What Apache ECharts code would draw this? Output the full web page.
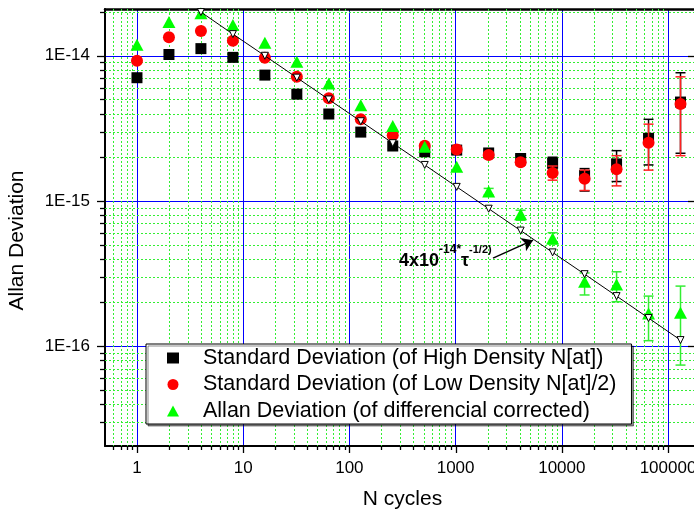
<!DOCTYPE html>
<html><head><meta charset="utf-8">
<script src="https://cdn.jsdelivr.net/npm/echarts@6/dist/echarts.min.js"></script>
<style>html,body{margin:0;padding:0;background:#fff}#c{width:694px;height:514px}</style>
</head><body><div id="c"></div>
<script>
// ---- data ----
const nCycles = [1,2,4,8,16,32,64,128,256,512,1024,2048,4096,8192,16384,32768,65536,131072];
const highDensity = [7.06e-15,1.02e-14,1.12e-14,9.75e-15,7.36e-15,5.44e-15,3.97e-15,2.98e-15,2.39e-15,2.18e-15,2.24e-15,2.14e-15,1.96e-15,1.82e-15,1.50e-15,1.80e-15,2.70e-15,4.80e-15];
const highErrLow  = [null,null,null,null,null,null,null,null,null,null,null,2.05e-15,1.84e-15,1.67e-15,1.17e-15,1.36e-15,1.77e-15,2.13e-15];
const highErrHigh = [null,null,null,null,null,null,null,null,null,null,null,2.24e-15,2.06e-15,2.00e-15,1.67e-15,2.22e-15,3.65e-15,7.64e-15];
const lowDensity = [9.24e-15,1.34e-14,1.48e-14,1.27e-14,9.7e-15,7.17e-15,5.09e-15,3.65e-15,2.84e-15,2.40e-15,2.26e-15,2.07e-15,1.85e-15,1.56e-15,1.42e-15,1.65e-15,2.52e-15,4.65e-15];
const lowErrLow  = [null,null,null,null,null,null,null,null,null,null,null,1.98e-15,1.76e-15,1.39e-15,1.18e-15,1.27e-15,1.63e-15,2.05e-15];
const lowErrHigh = [null,null,null,null,null,null,null,null,null,null,null,2.16e-15,1.95e-15,1.74e-15,1.63e-15,2.05e-15,3.38e-15,7.16e-15];
const allanDev = [1.19e-14,1.71e-14,1.96e-14,1.63e-14,1.23e-14,9.1e-15,6.45e-15,4.57e-15,3.28e-15,2.36e-15,1.72e-15,1.16e-15,8.1e-16,5.52e-16,2.77e-16,2.66e-16,1.68e-16,1.70e-16];
const allanErrLow  = [null,null,null,null,null,null,null,null,null,null,null,1.10e-15,7.36e-16,5.05e-16,2.25e-16,2.02e-16,1.09e-16,7.4e-17];
const allanErrHigh = [null,null,null,null,null,null,null,null,null,null,null,1.22e-15,8.63e-16,6.04e-16,3.19e-16,3.25e-16,2.21e-16,2.59e-16];
const refN = [4,8,16,32,64,128,256,512,1024,2048,4096,8192,16384,32768,65536,131072];
const refLine = [2.0e-14,1.41e-14,1.0e-14,7.07e-15,5.0e-15,3.54e-15,2.5e-15,1.77e-15,1.25e-15,8.84e-16,6.25e-16,4.42e-16,3.13e-16,2.21e-16,1.56e-16,1.10e-16];
const arrowFrom = [2250, 4.04e-16];
const arrowTo = [5360, 5.37e-16];
const seriesNames = ['Standard Deviation (of High Density N[at])','Standard Deviation (of Low Density N[at]/2)','Allan Deviation (of differencial corrected)'];
const xName = 'N cycles', yName = 'Allan Deviation';
const xTickLabels = [1,10,100,1000,10000,100000];
const yTickLabels = [1e-16,1e-15,1e-14];

const X_MIN = 0.5, X_MAX = 2e5, Y_MIN = 2.05e-17, Y_MAX = 2.1e-14;
const FONT = 'Liberation Sans, Arial, sans-serif';

// minor gridline values (2..9 per decade) inside the axis ranges
const xMinor = [], yMinor = [];
for (let d = -1; d <= 5; d++) for (let m = 2; m <= 9; m++) { const v = +(m * Math.pow(10, d)).toPrecision(6); if (v > X_MIN * 1.0001 && v < X_MAX * 0.9999) xMinor.push(v); }
for (let d = -17; d <= -14; d++) for (let m = 2; m <= 9; m++) { const v = +(m * Math.pow(10, d)).toPrecision(6); if (v > Y_MIN * 1.0001 && v < Y_MAX * 0.9999) yMinor.push(v); }

function pair(xs, ys) { return xs.map((x, i) => [x, ys[i]]); }

function xLineSeries(vals, grid, tickLen) {
  return {
    type: 'custom', silent: true, clip: false, z: grid ? 1 : 9,
    data: vals.map(v => [v, 1e-15]),
    renderItem(params, api) {
      const cs = params.coordSys;
      const p = api.coord([api.value(0), 1e-15]);
      const x = Math.round(p[0]) + 0.5;
      const bottom = cs.y + cs.height;
      const ch = [];
      if (grid) ch.push({ type: 'line', shape: { x1: x, y1: cs.y, x2: x, y2: bottom }, style: { stroke: '#33ee33', lineWidth: 1, lineDash: [2, 2] } });
      ch.push({ type: 'line', shape: { x1: x, y1: bottom, x2: x, y2: bottom + tickLen }, style: { stroke: '#000', lineWidth: 1.3 } });
      return { type: 'group', children: ch };
    }
  };
}
function yLineSeries(vals, grid, tickLen, rightLen) {
  return {
    type: 'custom', silent: true, clip: false, z: grid ? 1 : 9,
    data: vals.map(v => [1, v]),
    renderItem(params, api) {
      const cs = params.coordSys;
      const p = api.coord([1, api.value(1)]);
      const y = Math.round(p[1]) + 0.5;
      const right = cs.x + cs.width;
      const ch = [];
      if (grid) ch.push({ type: 'line', shape: { x1: cs.x, y1: y, x2: right, y2: y }, style: { stroke: '#33ee33', lineWidth: 1, lineDash: [2, 2] } });
      ch.push({ type: 'line', shape: { x1: cs.x - tickLen, y1: y, x2: cs.x, y2: y }, style: { stroke: '#000', lineWidth: 1.3 } });
      if (rightLen) ch.push({ type: 'line', shape: { x1: right - rightLen, y1: y, x2: right, y2: y }, style: { stroke: '#000', lineWidth: 1.3 } });
      return { type: 'group', children: ch };
    }
  };
}
function errSeries(lows, highs, color, z) {
  const data = [];
  nCycles.forEach((n, i) => { if (lows[i] != null) data.push([n, lows[i], highs[i]]); });
  return {
    type: 'custom', silent: true, z: z, encode: { x: 0, y: [1, 2] }, data,
    renderItem(params, api) {
      const lo = api.coord([api.value(0), api.value(1)]);
      const hi = api.coord([api.value(0), api.value(2)]);
      const w = 5, st = { stroke: color, lineWidth: 1.5 };
      return { type: 'group', children: [
        { type: 'line', shape: { x1: lo[0], y1: lo[1], x2: hi[0], y2: hi[1] }, style: st },
        { type: 'line', shape: { x1: lo[0] - w, y1: lo[1], x2: lo[0] + w, y2: lo[1] }, style: st },
        { type: 'line', shape: { x1: hi[0] - w, y1: hi[1], x2: hi[0] + w, y2: hi[1] }, style: st }
      ] };
    }
  };
}

const chart = echarts.init(document.getElementById('c'), null, { renderer: 'canvas' });
chart.setOption({
  animation: false,
  backgroundColor: '#fff',
  textStyle: { fontFamily: FONT },
  title: {
    text: '{a|4x10}{s|-14*}{u|τ}{t|-1/2)}',
    left: 399, top: 244, padding: 0,
    textStyle: { rich: {
      a: { fontFamily: FONT, fontWeight: 'bold', fontSize: 18, lineHeight: 24, color: '#000', verticalAlign: 'bottom' },
      u: { fontFamily: FONT, fontWeight: 'bold', fontSize: 18, lineHeight: 26, color: '#000', verticalAlign: 'bottom' },
      s: { fontFamily: FONT, fontWeight: 'bold', fontSize: 12, lineHeight: 12, color: '#000', verticalAlign: 'top' },
      t: { fontFamily: FONT, fontWeight: 'bold', fontSize: 11, lineHeight: 12, color: '#000', verticalAlign: 'top' }
    } }
  },
  grid: { left: 105, top: 9, width: 595, height: 437, containLabel: false, outerBoundsMode: 'none' },
  legend: {
    orient: 'vertical', left: 146, top: 344, z: 20,
    padding: [2, 15, 1, 21], itemGap: 2.5, itemWidth: 12, itemHeight: 11,
    backgroundColor: '#fff', borderColor: '#000', borderWidth: 1, borderRadius: 0,
    shadowColor: 'rgba(0,0,0,0.45)', shadowOffsetX: 2, shadowOffsetY: 2, shadowBlur: 0,
    textStyle: { fontFamily: FONT, fontSize: 21.5, color: '#000', lineHeight: 24, padding: [0, 0, 0, 19] },
    selectedMode: false,
    data: [
      { name: seriesNames[0], icon: 'rect' },
      { name: seriesNames[1], icon: 'circle' },
      { name: seriesNames[2], icon: 'triangle' }
    ]
  },
  xAxis: [{
    type: 'log', min: X_MIN, max: X_MAX, logBase: 10,
    name: xName, nameLocation: 'middle', nameGap: 43,
    nameTextStyle: { fontFamily: FONT, fontSize: 21, color: '#000' },
    axisLine: { lineStyle: { color: '#000', width: 2 } },
    axisTick: { show: false },
    axisLabel: { showMinLabel: false, showMaxLabel: false, margin: 14, fontFamily: FONT, fontSize: 17, color: '#000', formatter: v => String(Math.round(v)) },
    splitLine: { show: true, lineStyle: { color: '#0000ff', width: 1 } }
  }, {
    type: 'log', min: X_MIN, max: X_MAX, position: 'top',
    axisLine: { lineStyle: { color: '#000', width: 2.5 } },
    axisTick: { show: false }, axisLabel: { show: false }, splitLine: { show: false }
  }],
  yAxis: [{
    type: 'log', min: Y_MIN, max: Y_MAX, logBase: 10,
    name: yName, nameLocation: 'middle', nameGap: 77, nameRotate: 90,
    nameTextStyle: { fontFamily: FONT, fontSize: 21, color: '#000', padding: [0, 26, 0, 0] },
    axisLine: { lineStyle: { color: '#000', width: 2 } },
    axisTick: { show: false },
    axisLabel: { showMinLabel: false, showMaxLabel: false, margin: 15, fontFamily: FONT, fontSize: 17, color: '#000', formatter: v => '1E' + Math.round(Math.log10(v)) },
    splitLine: { show: true, lineStyle: { color: '#0000ff', width: 1 } }
  }, {
    type: 'log', min: Y_MIN, max: Y_MAX, position: 'right',
    axisLine: { lineStyle: { color: '#000', width: 2 } },
    axisTick: { show: false }, axisLabel: { show: false }, splitLine: { show: false }
  }],
  series: [
    xLineSeries(xMinor, true, 4),
    yLineSeries(yMinor, true, 5, 0),
    xLineSeries(xTickLabels, false, 7),
    yLineSeries(yTickLabels, false, 8, 12),
    errSeries(highErrLow, highErrHigh, '#000000', 2),
    { name: seriesNames[0], type: 'scatter', z: 3, symbol: 'rect', symbolSize: 11,
      itemStyle: { color: '#000000', opacity: 1 }, data: pair(nCycles, highDensity) },
    errSeries(lowErrLow, lowErrHigh, '#ff2020', 4),
    { name: seriesNames[1], type: 'scatter', z: 5, symbol: 'circle', symbolSize: 12,
      itemStyle: { color: '#ff0000', opacity: 1 }, data: pair(nCycles, lowDensity) },
    errSeries(allanErrLow, allanErrHigh, '#33ee33', 6),
    { name: seriesNames[2], type: 'scatter', z: 7, symbol: 'triangle', symbolSize: [13, 12],
      itemStyle: { color: '#00ff00', opacity: 1 }, data: pair(nCycles, allanDev) },
    { name: 'ref', type: 'line', z: 8, symbol: 'triangle', symbolRotate: 180, symbolSize: 7,
      showAllSymbol: true, silent: true,
      itemStyle: { color: '#ffffff', borderColor: '#000', borderWidth: 1, opacity: 1 },
      lineStyle: { color: '#000', width: 1 },
      data: pair(refN, refLine),
      markLine: { silent: true, symbol: ['none', 'arrow'], symbolSize: 11,
        lineStyle: { color: '#000', width: 1.5, type: 'solid' }, label: { show: false },
        emphasis: { disabled: true },
        data: [[{ coord: arrowFrom }, { coord: arrowTo }]] }
    }
  ]
});
</script></body></html>
